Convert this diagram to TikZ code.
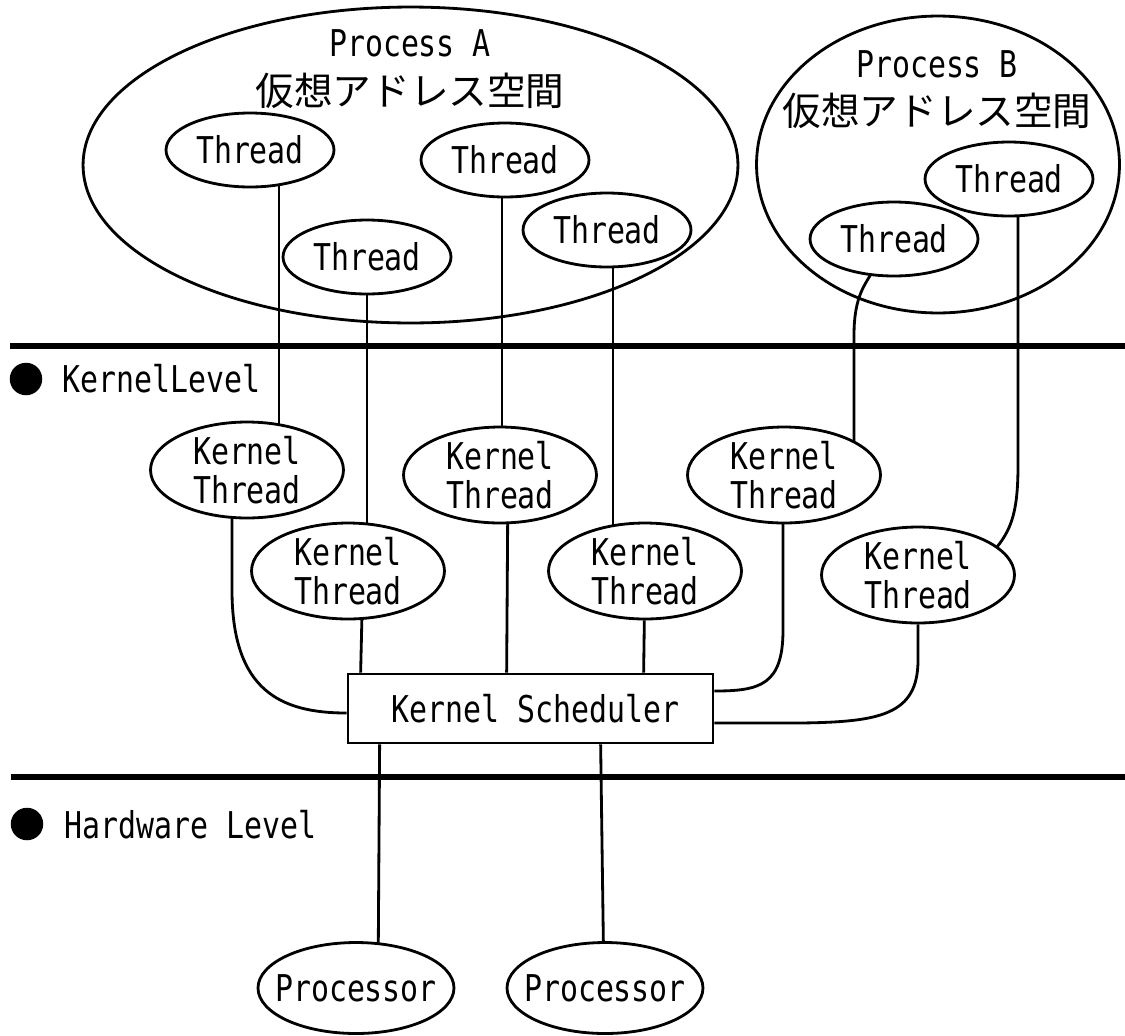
\documentclass[tikz,border=0pt]{standalone}
\usepackage{fontspec}
\setmainfont{DejaVu Sans Mono}[FakeStretch=0.81]
\newfontfamily\jp{Noto Sans CJK JP}
\usetikzlibrary{shapes.geometric,calc}
\pgfdeclarelayer{bg}
\pgfsetlayers{bg,main}
\begin{document}
\begin{tikzpicture}[x=0.02cm,y=-0.02cm,
  ln/.style={line width=1.6pt},
  heavy/.style={line width=3.2pt},
  lat/.style={inner sep=0pt, font=\fontsize{21}{22.1}\selectfont},
  jpt/.style={inner sep=0pt, font=\jp\fontsize{22}{23}\selectfont},
  ell/.style={draw, ellipse, line width=1.6pt, fill=white, inner sep=0pt,
              font=\fontsize{21}{22.1}\selectfont, align=center},
  tell/.style={ell, minimum width=3.36cm, minimum height=1.48cm},
  kell/.style={ell, minimum width=3.86cm, minimum height=1.92cm},
  pell/.style={ell, minimum width=3.92cm, minimum height=1.82cm},
  procell/.style={draw, ellipse, line width=1.6pt, inner sep=0pt},
  bullet/.style={circle, fill=black, inner sep=0pt, minimum size=0.65cm}
]
\useasboundingbox (0,0) rectangle (1125,1035);

% level separators
\coordinate (s1a) at (10,346);
\coordinate (s1b) at (1125,346);
\coordinate (s2a) at (11,777);
\coordinate (s2b) at (1125,777);
\draw[heavy] (s1a) -- (s1b);
\draw[heavy] (s2a) -- (s2b);

% level labels
\node[bullet] (b1) at (26,379) {};
\node[lat, anchor=west] (kl) at (62,379) {KernelLevel};
\node[bullet] (b2) at (27,824) {};
\node[lat, anchor=west] (hl) at (64,825) {Hardware Level};

% user threads
\node[tell] (t1) at (250,150) {Thread};
\node[tell] (t2) at (505,160) {Thread};
\node[tell] (t3) at (367,257) {Thread};
\node[tell] (t4) at (607,230) {Thread};
\node[tell] (t5) at (1009,179) {Thread};
\node[tell] (t6) at (894,239) {Thread};

% process address spaces
\node[procell, minimum width=13.1cm, minimum height=6.32cm] (pa) at (410.5,165) {};
\node[procell, minimum width=7.26cm, minimum height=5.94cm] (pb) at (938,164.5) {};
\node[lat] (pat) at (410,43) {Process A};
\node[jpt] (paj) at (410,91) {仮想アドレス空間};
\node[lat] (pbt) at (937,64) {Process B};
\node[jpt] (pbj) at (937,111) {仮想アドレス空間};

% kernel threads
\node[kell] (k1) at (247,470) {Kernel\\Thread};
\node[kell] (k2) at (500,475) {Kernel\\Thread};
\node[kell] (k3) at (784,475) {Kernel\\Thread};
\node[kell] (k4) at (348,571) {Kernel\\Thread};
\node[kell] (k5) at (645,571) {Kernel\\Thread};
\node[kell] (k6) at (918,575) {Kernel\\Thread};

% scheduler
\node[draw, rectangle, line width=1.6pt, fill=white, inner sep=0pt,
      minimum width=7.3cm, minimum height=1.38cm,
      font=\fontsize{21}{22.1}\selectfont] (sched) at (530.5,708.5) {\hspace*{6pt}Kernel Scheduler};

% processors
\node[pell] (p1) at (356,988) {\makebox[0pt]{Processor}};
\node[pell] (p2) at (605,988) {\makebox[0pt]{Processor}};

\begin{pgfonlayer}{bg}
  % user thread -> kernel thread
  \draw[ln] ($(t1)+(29,0)$) -- ($(k1)+(32,0)$);
  \draw[ln] ($(t3)+(0,0)$) -- ($(k4)+(19,0)$);
  \draw[ln] ($(t2)+(-3,0)$) -- ($(k2)+(2,0)$);
  \draw[ln] ($(t4)+(6,0)$) -- ($(k5)+(-32,0)$);
  \draw[ln] ($(t6)+(-22,0)$) -- ($(t6)+(-22,33)$)
        .. controls (866,284) and (854,295) .. (854,335) -- ($(k3)+(70,0)$);
  \draw[ln] ($(t5)+(9,0)$) -- (1018,465)
        .. controls (1018,510) and (1012,528) .. ($(k6)+(79,-28)$);
  % kernel thread -> scheduler
  \draw[ln] ($(k1)+(-15,0)$) -- (232,590)
        .. controls (232,690) and (280,713) .. ($(sched.west)+(0,4.5)$);
  \draw[ln] ($(k4)+(15,0)$) -- ($(sched.north west)+(14,0)$);
  \draw[ln] ($(k2)+(8,0)$) -- ($(sched.north west)+(160,0)$);
  \draw[ln] (k5) -- ($(sched.north west)+(297,0)$);
  \draw[ln] ($(k3)+(-1,0)$) -- (783,630)
        .. controls (783,685) and (760,691) .. ($(sched.east)+(0,-17.5)$);
  \draw[ln] (k6) -- (918,660)
        .. controls (918,715) and (880,722) .. (800,723) -- ($(sched.east)+(0,14.5)$);
  % scheduler -> processors
  \draw[ln] ($(sched.south west)+(33,0)$) -- ($(p1)+(22,0)$);
  \draw[ln] ($(sched.south west)+(254,0)$) -- ($(p2)+(-1,0)$);
\end{pgfonlayer}
\end{tikzpicture}
\end{document}
